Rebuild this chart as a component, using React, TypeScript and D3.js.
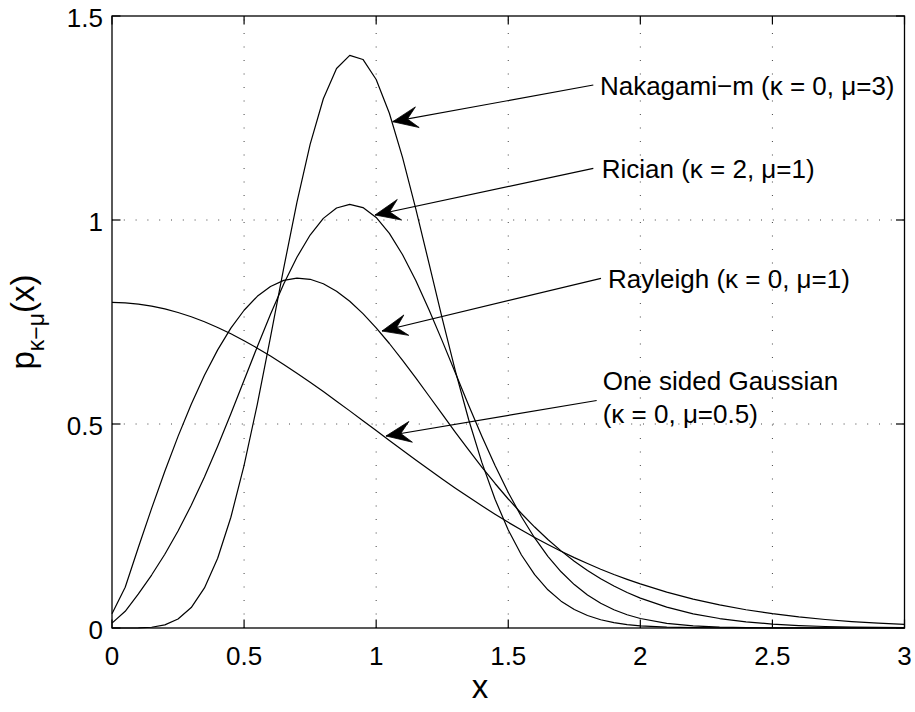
import React from "react";
import * as d3 from "d3";

// ---------- data ----------
const xValues = [
  0, 0.05, 0.1, 0.15, 0.2, 0.25, 0.3, 0.35, 0.4, 0.45,
  0.5, 0.55, 0.6, 0.65, 0.7, 0.75, 0.8, 0.85, 0.9, 0.95,
  1.0, 1.05, 1.1, 1.15, 1.2, 1.25, 1.3, 1.35, 1.4, 1.45,
  1.5, 1.55, 1.6, 1.65, 1.7, 1.75, 1.8, 1.85, 1.9, 1.95,
  2.0, 2.1, 2.2, 2.3, 2.4, 2.5, 2.6, 2.7, 2.8, 2.9, 3.0,
];

const nakagami = [
  0, 0, 0.0003, 0.0019, 0.0077, 0.0219, 0.0501, 0.0982, 0.1711, 0.2714,
  0.3986, 0.5484, 0.713, 0.882, 1.0434, 1.1852, 1.2971, 1.3713, 1.4036, 1.3935,
  1.3443, 1.2616, 1.1528, 1.0275, 0.8936, 0.7589, 0.6298, 0.5111, 0.4059, 0.3155,
  0.2401, 0.179, 0.1308, 0.0937, 0.0658, 0.0453, 0.0307, 0.0203, 0.0133, 0.0085,
  0.0053, 0.002, 0.0007, 0.0002, 0.0001, 0, 0, 0, 0, 0, 0,
];

const rician = [
  0.012, 0.0409, 0.0836, 0.1298, 0.1807, 0.2376, 0.3008, 0.3703, 0.4455, 0.5251,
  0.6071, 0.6894, 0.769, 0.8431, 0.9087, 0.9631, 1.004, 1.0294, 1.0383, 1.0305,
  1.0063, 0.9671, 0.9147, 0.8515, 0.7802, 0.7037, 0.6248, 0.5461, 0.47, 0.3982,
  0.3322, 0.2728, 0.2207, 0.1757, 0.1378, 0.1064, 0.0809, 0.0606, 0.0447, 0.0324,
  0.0232, 0.0113, 0.0052, 0.0023, 0.0009, 0.0004, 0.0001, 0.0001, 0, 0, 0,
];

const rayleigh = [
  0.035, 0.0998, 0.198, 0.2933, 0.3843, 0.4697, 0.5484, 0.6193, 0.6817, 0.735,
  0.7788, 0.8129, 0.8372, 0.852, 0.8577, 0.8547, 0.8437, 0.8254, 0.8008, 0.7706,
  0.7358, 0.6973, 0.656, 0.6129, 0.5686, 0.524, 0.4797, 0.4364, 0.3944, 0.3542,
  0.3162, 0.2806, 0.2474, 0.2168, 0.189, 0.1637, 0.141, 0.1207, 0.1028, 0.087,
  0.0733, 0.0511, 0.0348, 0.0232, 0.0151, 0.0097, 0.006, 0.0037, 0.0022, 0.0013, 0.0007,
];

const gaussian = [
  0.7979, 0.7969, 0.7939, 0.789, 0.7821, 0.7733, 0.7628, 0.7505, 0.7365, 0.7211,
  0.7041, 0.6859, 0.6664, 0.6459, 0.6245, 0.6023, 0.5794, 0.556, 0.5322, 0.5081,
  0.4839, 0.4598, 0.4357, 0.4119, 0.3884, 0.3653, 0.3427, 0.3208, 0.2995, 0.2789,
  0.259, 0.24, 0.2218, 0.2045, 0.1881, 0.1725, 0.1579, 0.1441, 0.1312, 0.1192,
  0.108, 0.088, 0.0709, 0.0567, 0.0448, 0.0351, 0.0272, 0.0208, 0.0158, 0.0119, 0.0089,
];

const seriesList = [nakagami, rician, rayleigh, gaussian];

const xTicks = [0, 0.5, 1, 1.5, 2, 2.5, 3];
const xTickLabels = ["0", "0.5", "1", "1.5", "2", "2.5", "3"];
const yTicks = [0, 0.5, 1, 1.5];
const yTickLabels = ["0", "0.5", "1", "1.5"];

const annotationLines = [
  ["Nakagami\u2212m (\u03BA = 0, \u03BC=3)"],
  ["Rician (\u03BA = 2, \u03BC=1)"],
  ["Rayleigh (\u03BA = 0, \u03BC=1)"],
  ["One sided Gaussian", "(\u03BA = 0, \u03BC=0.5)"],
];
// arrow tip / tail / text anchor, in data units
const annotationTips = [
  [1.0626, 1.2409],
  [0.9956, 1.0123],
  [1.0221, 0.7279],
  [1.0372, 0.4706],
];
const annotationTails = [
  [1.822, 1.3309],
  [1.822, 1.1267],
  [1.851, 0.8571],
  [1.8348, 0.5576],
];
const annotationText = [
  [1.847, 1.3064],
  [1.8537, 1.1029],
  [1.8776, 0.8333],
  [1.8575, 0.5833],
];

// ---------- layout ----------
const W = 915;
const H = 712;
const M = { left: 112, right: 904.5, top: 16, bottom: 628 };
const FONT = "'Liberation Sans', Arial, Helvetica, sans-serif";
const TICK = 8.5;
const XLABEL_X = 480;

export default function App() {
  const x = d3.scaleLinear().domain([0, 3]).range([M.left, M.right]);
  const y = d3.scaleLinear().domain([0, 1.5]).range([M.bottom, M.top]);

  const line = d3
    .line<number>()
    .x((_, i) => x(xValues[i]))
    .y((d) => y(d))
    .curve(d3.curveLinear);

  const arrowHead = (tx: number, ty: number, sx: number, sy: number) => {
    const dx = sx - tx;
    const dy = sy - ty;
    const len = Math.hypot(dx, dy);
    const ux = dx / len;
    const uy = dy / len;
    const nx = -uy;
    const ny = ux;
    const L = 25;
    const Wd = 10.5;
    const N = 15;
    const p = (a: number, b: number) => [tx + ux * a + nx * b, ty + uy * a + ny * b];
    const pts = [p(0, 0), p(L, -Wd), p(N, 0), p(L, Wd)];
    return "M" + pts.map((q) => q.join(",")).join("L") + "Z";
  };

  return (
    <svg
      width={W}
      height={H}
      style={{ position: "absolute", left: 0, top: 0, background: "#fff" }}
      fontFamily={FONT}
    >
      <rect x={0} y={0} width={W} height={H} fill="#fff" />

      {/* grid */}
      <g stroke="#444" strokeWidth={1}>
        {xTicks.slice(1, -1).map((t) => (
          <line
            key={"gx" + t}
            x1={x(t)}
            x2={x(t)}
            y1={M.bottom}
            y2={M.top}
            strokeDasharray="1 12.5"
          />
        ))}
        {yTicks.slice(1, -1).map((t) => (
          <line
            key={"gy" + t}
            x1={M.left}
            x2={M.right}
            y1={y(t)}
            y2={y(t)}
            strokeDasharray="1 10.8"
          />
        ))}
      </g>

      {/* curves */}
      <g fill="none" stroke="#000" strokeWidth={1.2} strokeLinejoin="round">
        {seriesList.map((s, i) => (
          <path key={"s" + i} d={line(s) || ""} />
        ))}
      </g>

      {/* box */}
      <rect
        x={M.left}
        y={M.top}
        width={M.right - M.left}
        height={M.bottom - M.top}
        fill="none"
        stroke="#000"
        strokeWidth={1.3}
      />

      {/* ticks */}
      <g stroke="#000" strokeWidth={1.2}>
        {xTicks.map((t) => (
          <g key={"tx" + t}>
            <line x1={x(t)} x2={x(t)} y1={M.bottom} y2={M.bottom - TICK} />
            <line x1={x(t)} x2={x(t)} y1={M.top} y2={M.top + TICK} />
          </g>
        ))}
        {yTicks.map((t) => (
          <g key={"ty" + t}>
            <line x1={M.left} x2={M.left + TICK} y1={y(t)} y2={y(t)} />
            <line x1={M.right} x2={M.right - TICK} y1={y(t)} y2={y(t)} />
          </g>
        ))}
      </g>

      {/* tick labels */}
      <g fontSize={26} fill="#000">
        {xTicks.map((t, i) => (
          <text key={"lx" + t} x={x(t)} y={M.bottom + 37} textAnchor="middle">
            {xTickLabels[i]}
          </text>
        ))}
        {yTicks.map((t, i) => (
          <text key={"ly" + t} x={M.left - 9} y={y(t) + 11} textAnchor="end">
            {yTickLabels[i]}
          </text>
        ))}
      </g>

      {/* axis labels */}
      <text x={XLABEL_X} y={698} fontSize={33} textAnchor="middle">
        x
      </text>
      <text
        transform={`translate(34, ${(M.top + M.bottom) / 2}) rotate(-90)`}
        fontSize={33}
        textAnchor="middle"
      >
        p
        <tspan fontSize={23} dy={9.5}>
          {"\u03BA\u2212\u03BC"}
        </tspan>
        <tspan dy={-9.5}>(x)</tspan>
      </text>

      {/* annotations */}
      <g>
        {annotationLines.map((lines, i) => {
          const [tx, ty] = [x(annotationTips[i][0]), y(annotationTips[i][1])];
          const [sx, sy] = [x(annotationTails[i][0]), y(annotationTails[i][1])];
          const [ax, ay] = [x(annotationText[i][0]), y(annotationText[i][1])];
          return (
            <g key={"a" + i}>
              <line x1={sx} y1={sy} x2={tx} y2={ty} stroke="#000" strokeWidth={1.2} />
              <path d={arrowHead(tx, ty, sx, sy)} fill="#000" stroke="#000" strokeWidth={0.8} />
              {lines.map((ln, j) => (
                <text key={j} x={ax} y={ay + j * 33} fontSize={26} fill="#000">
                  {ln}
                </text>
              ))}
            </g>
          );
        })}
      </g>
    </svg>
  );
}
